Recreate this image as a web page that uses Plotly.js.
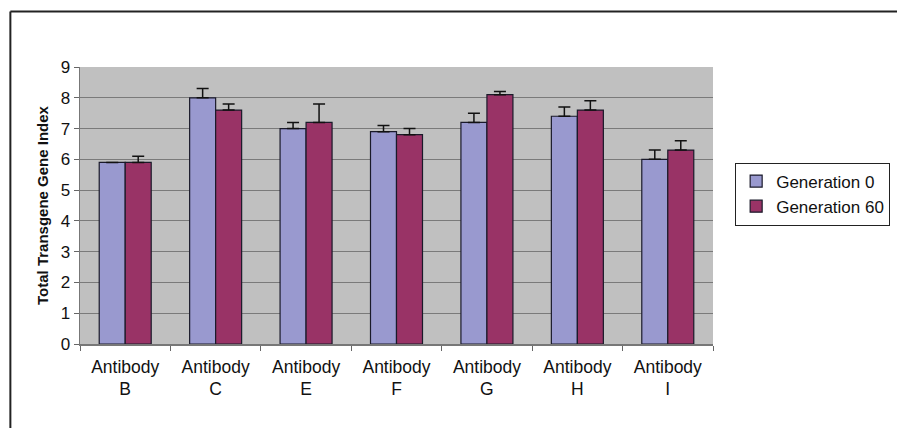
<!DOCTYPE html>
<html><head><meta charset="utf-8">
<script src="https://cdn.plot.ly/plotly-3.0.1.min.js"></script>
<style>html,body{margin:0;padding:0;background:#fff;}#chart{width:897px;height:428px;}</style>
</head><body><div id="chart"></div>
<script>
const categories = ["Antibody<br>B","Antibody<br>C","Antibody<br>E","Antibody<br>F","Antibody<br>G","Antibody<br>H","Antibody<br>I"];
const gen0 = [5.9, 8.0, 7.0, 6.9, 7.2, 7.4, 6.0];
const gen0Err = [null, 0.3, 0.2, 0.2, 0.3, 0.3, 0.3];
const gen60 = [5.9, 7.6, 7.2, 6.8, 8.1, 7.6, 6.3];
const gen60Err = [0.2, 0.2, 0.6, 0.2, 0.1, 0.3, 0.3];
const yTicks = [0,1,2,3,4,5,6,7,8,9];

const font = "Liberation Sans, Arial, sans-serif";
function barTrace(name, y, err, color){
  return {type:"bar", name:name, x:categories, y:y,
    marker:{color:color, line:{color:"#1a1a2a", width:1.2}},
    error_y:{type:"data", symmetric:false, array:err, arrayminus:err.map(v=>v===null?null:0), color:"#111", thickness:1.5, width:6}};
}
const data = [
  barTrace("Generation 0", gen0, gen0Err, "#9999cf"),
  barTrace("Generation 60", gen60, gen60Err, "#993366")
];
const layout = {
  width:897, height:428,
  margin:{l:80, r:184, t:67, b:84, autoexpand:false},
  paper_bgcolor:"#ffffff", plot_bgcolor:"#c0c0c0",
  barmode:"group", bargap:0.425, bargroupgap:0,
  font:{family:font, size:16, color:"#111"},
  showlegend:true,
  legend:{x:1.035, y:0.655, xanchor:"left", yanchor:"top", bgcolor:"#fff", bordercolor:"#222", borderwidth:1,
    font:{family:font, size:17, color:"#111"}, tracegroupgap:0, itemwidth:30},
  xaxis:{type:"category", tickson:"boundaries", ticks:"outside", ticklen:5, tickcolor:"#666",
    showline:true, linecolor:"#777", linewidth:1.5, showgrid:false, mirror:false, ticklabelstandoff:6,
    tickfont:{family:font, size:17.5, color:"#111"}, fixedrange:true},
  yaxis:{range:[0,9], tickvals:yTicks, ticktext:yTicks.map(String), ticks:"outside", ticklen:5, tickcolor:"#666",
    showline:true, linecolor:"#777", linewidth:1.5, showgrid:true, gridcolor:"#7a7a7a", gridwidth:1.2, zeroline:false,
    tickfont:{family:font, size:17, color:"#111"},
    title:{text:"<b>Total Transgene Gene Index</b>", font:{family:font, size:15, color:"#111"}, standoff:8}},
  shapes:[
    {type:"line", xref:"paper", yref:"paper", x0:-0.11, x1:1.3, y0:1.2, y1:1.2, line:{color:"#222", width:2}},
    {type:"line", xref:"paper", yref:"paper", x0:-0.11, x1:-0.11, y0:1.2, y1:-0.31, line:{color:"#222", width:2}}
  ]
};
Plotly.newPlot("chart", data, layout, {displayModeBar:false, staticPlot:true});
</script></body></html>
